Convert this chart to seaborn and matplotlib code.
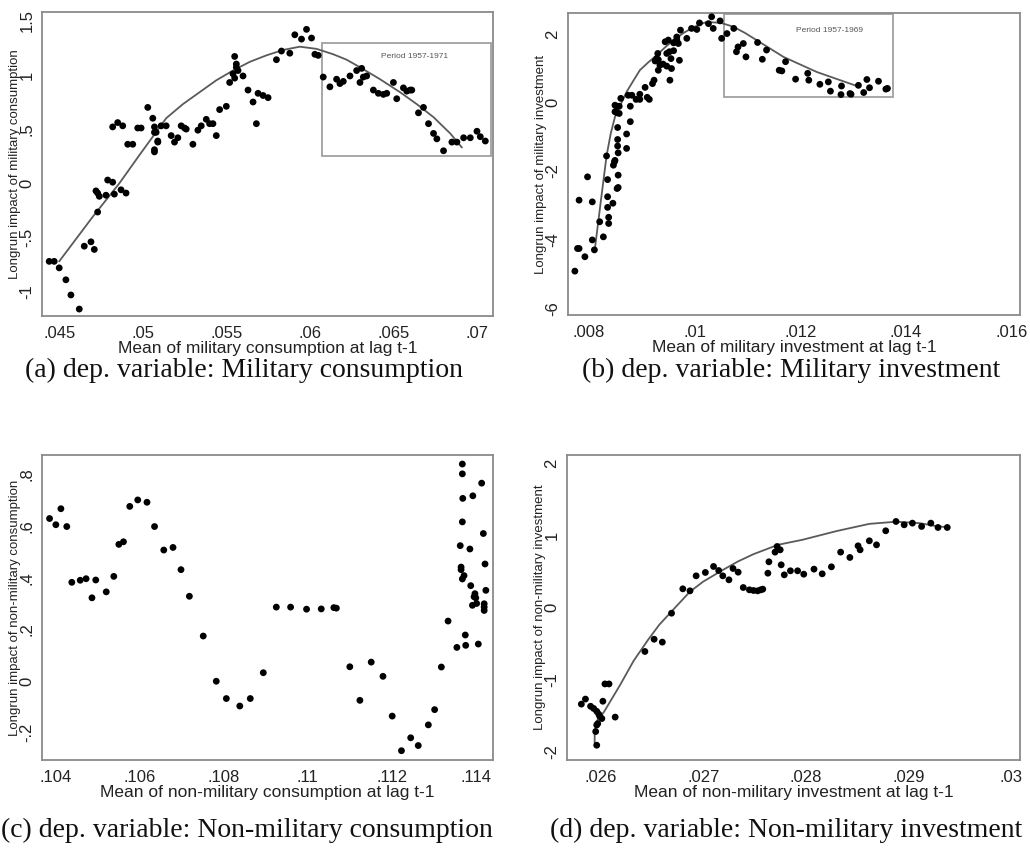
import numpy as np
import pandas as pd
import matplotlib
matplotlib.use("Agg")
import matplotlib.pyplot as plt
from matplotlib.patches import Rectangle
import seaborn as sns

# panel (a): military consumption
a_x = [.0444, .0447, .0450, .0454, .0457, .0462, .0465, .0469, .0471, .0473, .0472, .0473, .0474, .0478,
       .0479, .0482, .0483, .0487, .0490, .0482, .0485, .0488, .0491, .0494, .0497, .0499, .0503, .0506,
       .0507, .0507, .0508, .0507, .0507, .0509, .0509, .0511, .0514, .0517, .0519, .0521, .0523, .0525,
       .0526, .0530, .0533, .0535, .0538, .0540, .0542, .0544, .0546, .0550, .0552, .0554, .0555, .0556,
       .0556, .0555, .0557, .0560, .0563, .0566, .0568, .0569, .0572, .0575, .0580, .0583, .0588, .0591,
       .0595, .0598, .0601, .0603, .0605, .0608, .0612, .0616, .0618, .0620, .0624, .0628, .0630, .0631,
       .0632, .0634, .0638, .0641, .0644, .0646, .0650, .0652, .0656, .0658, .0660, .0661, .0665, .0668,
       .0671, .0674, .0676, .0680, .0685, .0688, .0692, .0696, .0700, .0702, .0705]
a_y = [-.72, -.72, -.78, -.89, -1.03, -1.16, -.58, -.54, -.61, -.265, -.07, -.09, -.12, -.11,
       .03, .01, -.10, -.06, -.09, .52, .56, .53, .36, .36, .51, .51, .70, .60,
       .47, .52, .47, .31, .29, .39, .38, .53, .53, .44, .38, .42, .53, .51,
       .50, .36, .49, .53, .59, .55, .55, .44, .68, .71, .93, 1.01, .97, 1.07,
       1.10, 1.17, 1.04, .99, .86, .75, .55, .83, .81, .79, 1.14, 1.22, 1.20, 1.37,
       1.33, 1.42, 1.34, 1.19, 1.18, .98, .89, .96, .92, .94, .99, 1.04, .93, 1.06,
       .98, .99, .86, .83, .82, .83, .93, .78, .88, .85, .86, .86, .65, .70,
       .55, .46, .41, .30, .38, .38, .42, .42, .48, .43, .39]
a_fit_x = [.0450, .0470, .0486, .0498, .0514, .0524, .0534, .0544, .0554, .0564, .0574, .0584, .0594,
           .0604, .0614, .0622, .0630, .0642, .0654, .0664, .0674, .0684, .0691]
a_fit_y = [-.72, -.31, 0, .26, .60, .73, .84, .95, 1.04, 1.12, 1.18, 1.23, 1.26,
           1.24, 1.19, 1.14, 1.07, .96, .84, .73, .61, .46, .33]

# panel (b): military investment
b_x = [.00773, .00778, .00781, .00792, .00781, .00797, .00806, .00806, .00810, .00820, .00827, .00833,
       .00835, .00835, .00835, .00837, .00837, .00845, .00846, .00848, .00849, .00854, .00854, .00854,
       .00855, .00855, .00855, .00853, .00849, .00853, .00857, .00849, .00853, .00857, .00860, .00878,
       .00878, .00871, .00871, .00874, .00881, .00889, .00896, .00896, .00906, .00910, .00914, .00920,
       .00923, .00925, .00928, .00931, .00930, .00931, .00934, .00940, .00944, .00950, .00947, .00952,
       .00947, .00953, .00955, .00960, .00956, .00960, .00963, .00966, .00969, .00971, .00966, .00973,
       .00985, .00994, .01004, .01009, .01026, .01032, .01035, .01048, .01051, .01061,
       .01074, .01079, .01082, .01092, .01097, .01119, .01128, .01136, .01160, .01165, .01172, .01191,
       .01214, .01216, .01237, .01253, .01257, .01278, .01277, .01294, .01296, .01310, .01320, .01326,
       .01331, .01348, .01362, .01365]
b_y = [-4.92, -4.26, -4.26, -4.50, -2.85, -2.17, -2.90, -4.01, -4.30, -3.48, -3.92, -1.56,
       -2.25, -2.75, -3.06, -3.35, -3.53, -2.94, -1.83, -1.73, -1.69, -.73, -1.08, -1.27,
       -1.47, -2.12, -2.48, -2.51, -.08, -.11, -.11, -.27, -.30, -.32, .12, -.11,
       -.56, -.92, -1.34, .21, .21, .09, .09, .24, .44, .15, .09, .55,
       .65, 1.21, 1.28, 1.25, 1.43, .94, 1.09, 1.12, 1.77, 1.82, 1.43, 1.48,
       1.06, .65, 1.28, 1.51, .99, 1.74, 1.77, 1.82, 1.72, 1.23, 1.91, 2.11,
       1.87, 2.16, 2.13, 2.32, 2.30, 2.50, 2.16, 2.38, 1.87, 2.01,
       2.16, 1.48, 1.62, 1.72, 1.33, 1.75, 1.26, 1.53, .94, .92, 1.19, .68,
       .85, .65, .53, .60, .33, .48, .23, .26, .24, .50, .29, .67,
       .43, .62, .39, .41]
b_fit_x = [.00811, .00822, .00833, .00841, .00849, .00860, .00871, .00884, .00896, .00912, .00928,
           .00944, .00960, .00978, .00997, .01010, .01023, .01050, .01073, .01095, .01117, .01168,
           .01231, .01307]
b_fit_y = [-4.26, -2.90, -1.56, -.90, -.42, -.05, .31, .64, .94, 1.17, 1.38, 1.61, 1.82, 2.02, 2.19,
           2.28, 2.35, 2.32, 2.21, 2.03, 1.82, 1.33, .89, .48]

# panel (c): non-military consumption
c_x = [.10385, .10400, .10412, .10426, .10438, .10458, .10472, .10486, .10495, .10520, .10538, .10550,
       .10561, .10576, .10595, .10617, .10635, .10657, .10679, .10698, .10718, .10751, .10782, .10806,
       .10838, .10863, .10894, .10925, .10959, .10997, .11032, .11062, .11068, .11100, .11124, .11151,
       .11179, .11201, .11223, .11245, .11263, .11287, .11302, .11318, .11334, .11355,
       .11368, .11368, .11414, .11369, .11393, .11368, .11418, .11363, .11386, .11422, .11365, .11365,
       .11372, .11368, .11388, .11398, .11396, .11400, .11392, .11402, .11420, .11420, .11420, .11424,
       .11375, .11376, .11406]
c_y = [.629, .605, .667, .598, .382, .390, .396, .322, .391, .345, .405, .529,
       .539, .676, .701, .692, .598, .507, .517, .431, .328, .174, -.001, -.068,
       -.097, -.068, .032, .286, .286, .278, .279, .284, .282, .055, -.075, .073,
       .018, -.136, -.270, -.220, -.250, -.170, -.111, .054, .232, .130,
       .840, .802, .766, .707, .717, .616, .571, .524, .511, .453, .441, .431,
       .408, .395, .369, .338, .326, .322, .293, .300, .299, .286, .273, .351,
       .178, .138, .143]

# panel (d): non-military investment
d_x = [.02581, .02585, .02590, .02593, .02596, .02598, .02599, .02601, .02602, .02604, .02608, .02596,
       .02597, .02595, .02596, .02614, .02643, .02652, .02660, .02669, .02680, .02687, .02693, .02702,
       .02710, .02715, .02719, .02725, .02729, .02734, .02739, .02745, .02749, .02753, .02756, .02758,
       .02763, .02764, .02770, .02772, .02775, .02776, .02779, .02785, .02792, .02798, .02808, .02816,
       .02825, .02834, .02843, .02851, .02853, .02862, .02869, .02878, .02888, .02896, .02904, .02913,
       .02922, .02929, .02938]
d_y = [-1.34, -1.27, -1.37, -1.40, -1.44, -1.48, -1.51, -1.54, -1.30, -1.06, -1.06, -1.63,
       -1.61, -1.72, -1.91, -1.52, -.61, -.44, -.48, -.079, .259, .231, .439, .486,
       .569, .513, .439, .384, .541, .490, .277, .245, .236, .231, .245, .254,
       .476, .634, .768, .846, .800, .592, .453, .509, .509, .462, .532, .467,
       .564, .768, .694, .855, .800, .925, .869, 1.064, 1.193, 1.147, 1.170, 1.124,
       1.170, 1.110, 1.110]
d_fit_x = [.02594, .02594, .02597, .02603, .02619, .02632, .02646, .02657, .02669, .02687, .02700,
           .02719, .02734, .02749, .02773, .02797, .02830, .02862, .02888, .02911, .02927, .02940]
d_fit_y = [-1.88, -1.72, -1.55, -1.45, -1.07, -.74, -.45, -.24, -.055, .22, .36, .52, .64, .74,
           .87, .94, 1.06, 1.16, 1.19, 1.17, 1.13, 1.11]

panels = [
    dict(x=a_x, y=a_y, fx=a_fit_x, fy=a_fit_y,
         xt=[.045, .05, .055, .06, .065, .07], xl=[".045", ".05", ".055", ".06", ".065", ".07"],
         yt=[-1, -.5, 0, .5, 1, 1.5], yl=["-1", "-.5", "0", ".5", "1", "1.5"],
         xlim=(.04397, .07096), ylim=(-1.224, 1.58),
         xlabel="Mean of military consumption at lag t-1",
         ylabel="Longrun impact of military consumption",
         box=(.0607, .255, .07084, 1.292), boxtext=(.06628, 1.17, "Period 1957-1971"),
         pos=[42, 12, 493, 316], cap="(a) dep. variable: Military consumption", capx=244, capy=370),
    dict(x=b_x, y=b_y, fx=b_fit_x, fy=b_fit_y,
         xt=[.008, .01, .012, .014, .016], xl=[".008", ".01", ".012", ".014", ".016"],
         yt=[-6, -4, -2, 0, 2], yl=["-6", "-4", "-2", "0", "2"],
         xlim=(.0076, .01616), ylim=(-6.2, 2.61),
         xlabel="Mean of military investment at lag t-1",
         ylabel="Longrun impact of military investment",
         box=(.01056, .146, .01376, 2.575), boxtext=(.01256, 2.09, "Period 1957-1969"),
         pos=[568, 13, 1020, 315], cap="(b) dep. variable: Military investment", capx=791, capy=370),
    dict(x=c_x, y=c_y, fx=None, fy=None,
         xt=[.104, .106, .108, .11, .112, .114], xl=[".104", ".106", ".108", ".11", ".112", ".114"],
         yt=[-.2, 0, .2, .4, .6, .8], yl=["-.2", "0", ".2", ".4", ".6", ".8"],
         xlim=(.10367, .11441), ylim=(-.306, .875),
         xlabel="Mean of non-military consumption at lag t-1",
         ylabel="Longrun impact of non-military consumption",
         box=None, boxtext=None,
         pos=[42, 455, 493, 760], cap="(c) dep. variable: Non-military consumption", capx=247, capy=830),
    dict(x=d_x, y=d_y, fx=d_fit_x, fy=d_fit_y,
         xt=[.026, .027, .028, .029, .03], xl=[".026", ".027", ".028", ".029", ".03"],
         yt=[-2, -1, 0, 1, 2], yl=["-2", "-1", "0", "1", "2"],
         xlim=(.02567, .03009), ylim=(-2.115, 2.115),
         xlabel="Mean of non-military investment at lag t-1",
         ylabel="Longrun impact of non-military investment",
         box=None, boxtext=None,
         pos=[567, 455, 1020, 760], cap="(d) dep. variable: Non-military investment", capx=786, capy=830),
]

sns.set_style("white")
plt.rcParams['font.family'] = ['Liberation Sans', 'DejaVu Sans']

W, H = 1030, 858
fig = plt.figure(figsize=(W / 100, H / 100), dpi=100)
frame = "#8a8a8a"

for p in panels:
    l, t, r, b = p["pos"]
    ax = fig.add_axes([l / W, 1 - b / H, (r - l) / W, (b - t) / H])
    df = pd.DataFrame({"x": p["x"], "y": p["y"]})
    sns.scatterplot(data=df, x="x", y="y", ax=ax, color="black", s=24, edgecolor="none", zorder=3)
    if p["fx"] is not None:
        fit = pd.DataFrame({"x": p["fx"], "y": p["fy"]})
        sns.lineplot(data=fit, x="x", y="y", ax=ax, color="#5a5a5a", lw=1.3,
                     estimator=None, sort=False, zorder=2)
    if p["box"] is not None:
        x0, y0, x1, y1 = p["box"]
        ax.add_patch(Rectangle((x0, y0), x1 - x0, y1 - y0, fill=False, ec="#a0a0a0", lw=1.3, zorder=1))
        tx, ty, tt = p["boxtext"]
        ax.text(tx, ty, tt, fontsize=6, color="#555555", ha="center", va="center")
    ax.set_xlim(*p["xlim"])
    ax.set_ylim(*p["ylim"])
    ax.set_xticks(p["xt"])
    ax.set_xticklabels(p["xl"], fontsize=12, color="#222222")
    ax.set_yticks(p["yt"])
    ax.set_yticklabels(p["yl"], fontsize=12, color="#222222", rotation=90, va="center")
    ax.tick_params(axis="x", direction="out", length=5, width=1, color=frame, pad=2)
    ax.tick_params(axis="y", direction="out", length=5, width=1, color=frame, pad=0.5)
    for s in ax.spines.values():
        s.set_visible(True)
        s.set_color(frame)
        s.set_linewidth(1.3)
    ax.set_xlabel(p["xlabel"], fontsize=12.5, color="#222222", labelpad=0)
    ax.set_ylabel(p["ylabel"], fontsize=9.5, color="#222222", labelpad=-1)
    fig.text(p["capx"] / W, 1 - p["capy"] / H, p["cap"], ha="center", va="center",
             fontsize=20, family=["Liberation Serif", "DejaVu Serif"], color="#111111")

fig.savefig("out.png", dpi=100)
